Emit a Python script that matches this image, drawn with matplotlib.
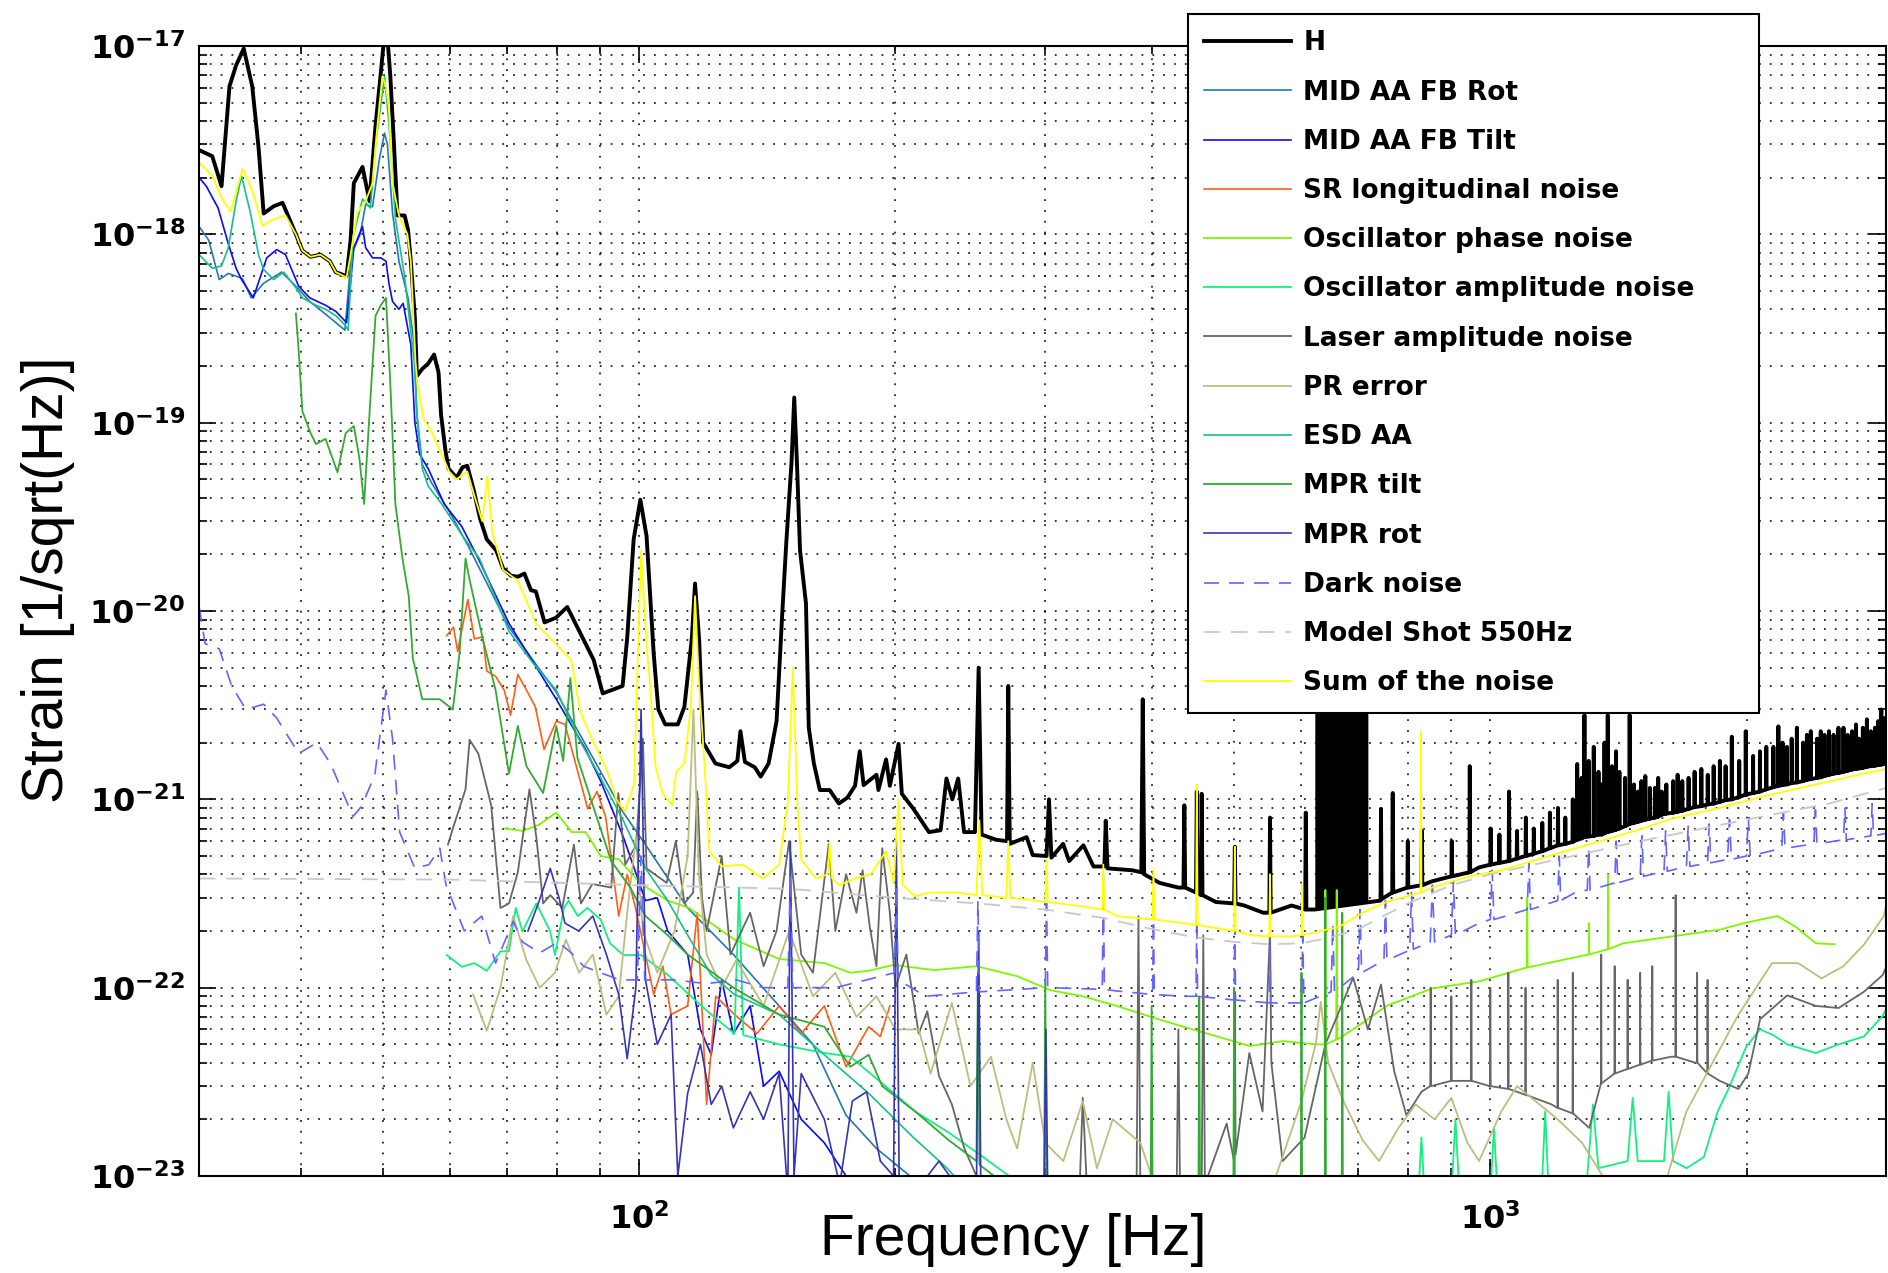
import matplotlib
matplotlib.use("Agg")
import matplotlib.pyplot as plt
from matplotlib.ticker import FixedLocator, FixedFormatter, LogLocator, NullFormatter

# ---------------- data: (frequency [Hz], strain [1/sqrt(Hz)]) ----------------
H = [(30.4, 2.8e-18), (31.5, 2.6e-18), (32.3, 1.8e-18), (33.0, 6.1e-18), (33.6, 7.9e-18), (34.3, 9.7e-18),
     (35.1, 6.1e-18), (35.7, 2.9e-18), (36.2, 1.29e-18), (37.2, 1.41e-18), (38.1, 1.47e-18), (39.5, 1.0e-18),
     (40.2, 8.2e-19), (41.1, 7.6e-19), (42.2, 7.8e-19), (43.3, 7.2e-19), (44.0, 6.3e-19), (45.3, 6.0e-19),
     (45.8, 9.3e-19), (46.2, 1.87e-18), (47.3, 2.28e-18), (48.2, 1.5e-18), (49.0, 3.8e-18), (49.7, 7.2e-18),
     (50.4, 1.4e-17), (51.0, 6.9e-18), (51.5, 3.0e-18), (52.0, 1.26e-18), (53.0, 1.26e-18), (53.5, 1.06e-18),
     (53.9, 7.2e-19), (54.5, 3.6e-19), (54.8, 1.77e-19), (55.6, 1.93e-19), (56.5, 2.06e-19), (57.4, 2.3e-19),
     (58.1, 1.85e-19), (58.5, 1.1e-19), (59.2, 7.1e-20), (59.7, 5.7e-20), (61.0, 5.1e-20), (62.0, 5.8e-20),
     (62.8, 5.9e-20), (63.9, 4.4e-20), (65.0, 3.1e-20), (66.2, 2.4e-20), (67.9, 2.1e-20), (69.2, 1.68e-20),
     (70.7, 1.54e-20), (72.0, 1.52e-20), (73.3, 1.58e-20), (74.6, 1.29e-20), (75.6, 1.27e-20), (77.4, 8.7e-21),
     (79.8, 9.2e-21), (82.3, 1.05e-20), (85.3, 7.6e-21), (88.4, 5.5e-21), (90.6, 3.65e-21), (92.8, 3.8e-21),
     (95.6, 4.0e-21), (96.8, 7.2e-21), (98.5, 2.4e-20), (100.3, 3.9e-20), (102, 2.5e-20), (104, 5.9e-21),
     (105.3, 3.0e-21), (107.3, 2.5e-21), (111, 2.5e-21), (113, 3.1e-21), (115.3, 7.2e-21), (116.3, 1.4e-20),
     (117.6, 7.0e-21), (118.9, 2.0e-21), (122.9, 1.55e-21), (127.6, 1.48e-21), (130.4, 1.6e-21), (131.5, 2.3e-21),
     (133.1, 1.58e-21), (136.7, 1.48e-21), (138.9, 1.32e-21), (141.9, 1.55e-21), (145, 2.6e-21), (147.3, 1.0e-20),
     (148.9, 2.35e-20), (151, 6.2e-20), (152.1, 1.36e-19), (153.2, 6.2e-20), (154.5, 2.1e-20), (157, 1.1e-20),
     (158.2, 2.4e-21), (160.4, 1.55e-21), (163, 1.12e-21), (167.4, 1.12e-21), (171.6, 9.5e-22), (175.6, 1.02e-21),
     (179.3, 1.18e-21), (181.6, 1.8e-21), (183.5, 1.19e-21), (190, 1.35e-21), (191, 1.12e-21), (195, 1.63e-21),
     (197, 1.18e-21), (201.7, 1.97e-21), (203.5, 1.07e-21), (210, 8.9e-22), (219, 6.7e-22), (226, 6.85e-22),
     (229.6, 1.29e-21), (233.3, 1.0e-21), (237, 1.29e-21), (240.8, 6.7e-22), (248, 6.7e-22), (250.5, 5.0e-21),
     (252.5, 6.5e-22), (262.6, 6.1e-22), (270.5, 6.0e-22), (271.4, 4.0e-21), (272.5, 5.8e-22), (285.2, 6.3e-22),
     (290, 5.06e-22), (301, 5.0e-22), (303, 1.0e-21), (305, 4.9e-22), (314.8, 5.8e-22), (320, 4.7e-22),
     (332.6, 5.7e-22), (341.8, 4.4e-22), (352, 4.4e-22), (353.3, 7.7e-22), (355, 4.3e-22), (379.6, 4.2e-22),
     (389, 4.1e-22), (390.5, 3.4e-21), (392, 4.0e-22), (408.7, 3.6e-22), (430, 3.4e-22), (436, 3.4e-22),
     (437, 9.3e-22), (438, 3.4e-22), (451, 3.2e-22), (452, 1.1e-21), (453, 3.2e-22), (457, 3.1e-22),
     (458, 1.07e-21), (459, 3.1e-22), (476, 2.85e-22), (500, 2.8e-22), (501, 5.6e-22), (502, 2.8e-22),
     (514, 2.73e-22), (541, 2.5e-22), (550, 2.5e-22), (551, 8.0e-22), (552, 2.5e-22), (584, 2.73e-22),
     (606, 2.6e-22), (607, 8.5e-22), (608, 2.6e-22), (622, 2.6e-22), (721, 2.85e-22), (743, 2.9e-22),
     (744, 8.9e-22), (745, 2.95e-22), (767, 3.2e-22), (768, 1.08e-21), (769, 3.2e-22), (799, 3.4e-22),
     (800, 6.0e-22), (801, 3.4e-22), (830, 3.5e-22), (831, 6.8e-22), (832, 3.5e-22), (854, 3.67e-22),
     (900, 3.9e-22), (901, 6.0e-22), (902, 3.9e-22), (945, 4.1e-22), (946, 1.5e-21), (947, 4.1e-22),
     (970, 4.35e-22),
     (1000, 4.5e-22), (1001, 7.0e-22), (1002, 4.5e-22), (1024, 4.6e-22), (1025, 6.5e-22), (1026, 4.6e-22),
     (1051, 4.7e-22), (1052, 1.1e-21), (1053, 4.7e-22), (1074, 4.85e-22), (1075, 6.8e-22), (1076, 4.85e-22),
     (1100, 5.0e-22), (1101, 8.0e-22), (1102, 5.0e-22), (1124, 5.15e-22), (1125, 7.0e-22), (1126, 5.15e-22),
     (1150, 5.3e-22), (1151, 7.5e-22), (1152, 5.3e-22), (1174, 5.5e-22), (1175, 8.5e-22), (1176, 5.5e-22),
     (1200, 5.7e-22), (1201, 9.0e-22), (1202, 5.7e-22), (1224, 5.8e-22), (1225, 8.0e-22), (1226, 5.8e-22),
     (1249, 5.95e-22), (1250, 1.0e-21), (1251, 5.95e-22), (1264, 6.1e-22), (1265, 1.54e-21), (1266, 6.1e-22),
     (1279, 6.2e-22), (1280, 1.3e-21), (1281, 6.2e-22), (1289, 6.3e-22), (1290, 2.8e-21), (1291, 6.3e-22),
     (1304, 6.35e-22), (1305, 1.6e-21), (1306, 6.35e-22), (1322, 6.4e-22), (1323, 1.9e-21), (1324, 6.4e-22),
     (1339, 6.5e-22), (1340, 1.4e-21), (1341, 6.5e-22), (1350, 6.5e-22), (1351, 1.2e-21), (1352, 6.5e-22),
     (1361, 6.6e-22), (1362, 2.0e-21), (1363, 6.6e-22), (1373, 6.7e-22), (1374, 2.8e-21), (1375, 6.7e-22),
     (1389, 6.8e-22), (1390, 1.5e-21), (1391, 6.8e-22), (1404, 6.9e-22), (1405, 1.8e-21), (1406, 6.9e-22),
     (1417, 7.0e-22), (1418, 1.4e-21), (1419, 7.0e-22), (1439, 7.2e-22), (1440, 1.3e-21), (1441, 7.2e-22),
     (1457, 7.4e-22), (1458, 2.8e-21), (1459, 7.4e-22), (1474, 7.5e-22), (1475, 1.2e-21), (1476, 7.5e-22),
     (1490, 7.6e-22), (1491, 1.1e-21), (1492, 7.6e-22), (1504, 7.7e-22), (1505, 1.25e-21), (1506, 7.7e-22),
     (1520, 7.8e-22), (1521, 1.33e-21), (1522, 7.8e-22), (1539, 7.9e-22), (1540, 1.15e-21), (1541, 7.9e-22),
     (1560, 8.0e-22), (1561, 1.15e-21), (1562, 8.0e-22), (1574, 8.1e-22), (1575, 1.3e-21), (1576, 8.1e-22),
     (1589, 8.3e-22), (1590, 1.1e-21), (1591, 8.3e-22), (1609, 8.4e-22), (1610, 1.2e-21), (1611, 8.4e-22),
     (1639, 8.5e-22), (1640, 1.25e-21), (1641, 8.5e-22), (1659, 8.6e-22), (1660, 1.35e-21), (1661, 8.6e-22),
     (1680, 8.7e-22), (1681, 1.25e-21), (1682, 8.7e-22), (1709, 8.9e-22), (1710, 1.3e-21), (1711, 8.9e-22),
     (1737, 9.1e-22), (1738, 1.4e-21), (1739, 9.1e-22), (1769, 9.2e-22), (1770, 1.45e-21), (1771, 9.2e-22),
     (1800, 9.4e-22), (1801, 1.35e-21), (1802, 9.4e-22), (1829, 9.5e-22), (1830, 1.5e-21), (1831, 9.5e-22),
     (1860, 9.7e-22), (1861, 1.6e-21), (1862, 9.7e-22), (1889, 9.9e-22), (1890, 1.5e-21), (1891, 9.9e-22),
     (1921, 1.0e-21), (1922, 2.15e-21), (1923, 1.0e-21), (1960, 1.03e-21), (1961, 1.6e-21), (1962, 1.03e-21),
     (1995, 1.06e-21), (1996, 2.3e-21), (1997, 1.06e-21), (2035, 1.08e-21), (2036, 1.7e-21), (2037, 1.08e-21),
     (2073, 1.1e-21), (2074, 1.8e-21), (2075, 1.1e-21), (2109, 1.13e-21), (2110, 1.9e-21), (2111, 1.13e-21),
     (2150, 1.16e-21), (2151, 1.9e-21), (2152, 1.16e-21), (2179, 1.18e-21), (2180, 2.44e-21), (2181, 1.18e-21),
     (2204, 1.19e-21), (2205, 2.0e-21), (2206, 1.19e-21), (2230, 1.2e-21), (2231, 1.9e-21), (2232, 1.2e-21),
     (2259, 1.22e-21), (2260, 2.1e-21), (2261, 1.22e-21), (2291, 1.23e-21), (2292, 2.4e-21), (2293, 1.23e-21),
     (2330, 1.25e-21), (2331, 2.0e-21), (2332, 1.25e-21), (2354, 1.27e-21), (2355, 2.2e-21), (2356, 1.27e-21),
     (2379, 1.28e-21), (2380, 2.3e-21), (2381, 1.28e-21), (2420, 1.3e-21), (2421, 2.1e-21), (2422, 1.3e-21),
     (2444, 1.31e-21), (2445, 2.3e-21), (2446, 1.31e-21), (2469, 1.33e-21), (2470, 2.2e-21), (2471, 1.33e-21),
     (2499, 1.35e-21), (2500, 2.3e-21), (2501, 1.35e-21), (2530, 1.37e-21), (2531, 2.2e-21), (2532, 1.37e-21),
     (2564, 1.38e-21), (2565, 2.4e-21), (2566, 1.38e-21), (2599, 1.4e-21), (2600, 2.4e-21), (2601, 1.4e-21),
     (2629, 1.42e-21), (2630, 2.2e-21), (2631, 1.42e-21), (2660, 1.44e-21), (2661, 2.3e-21), (2662, 1.44e-21),
     (2689, 1.45e-21), (2690, 2.5e-21), (2691, 1.45e-21), (2710, 1.46e-21), (2711, 2.1e-21), (2712, 1.46e-21),
     (2739, 1.47e-21), (2740, 2.4e-21), (2741, 1.47e-21), (2769, 1.49e-21), (2770, 2.66e-21), (2771, 1.49e-21),
     (2799, 1.5e-21), (2800, 2.3e-21), (2801, 1.5e-21), (2830, 1.51e-21), (2831, 2.4e-21), (2832, 1.51e-21),
     (2854, 1.52e-21), (2855, 2.6e-21), (2856, 1.52e-21), (2879, 1.53e-21), (2880, 3.0e-21), (2881, 1.53e-21),
     (2904, 1.54e-21), (2905, 2.7e-21), (2906, 1.54e-21), (2920, 1.55e-21)]

# dense band of H lines between ~620 and ~720 Hz
H_BLOCK_F = [622, 718]
H_BLOCK_LO = [2.6e-22, 2.85e-22]
H_BLOCK_HI = [6.0e-21, 6.0e-21]

MID_ROT = [(30.4, 1.1e-18), (31.2, 9.3e-19), (32.1, 5.75e-19), (32.9, 6.2e-19), (33.6, 6.0e-19), (34.2, 5.8e-19),
           (35.0, 4.6e-19), (36.2, 5.5e-19), (38.0, 6.3e-19), (39.5, 5.3e-19), (41.0, 4.4e-19), (42.4, 3.9e-19),
           (44.0, 3.4e-19), (45.1, 3.1e-19), (45.9, 7.8e-19), (47.0, 1.0e-18), (47.7, 1.44e-18), (48.6, 1.4e-18),
           (49.5, 2.5e-18), (50.2, 3.45e-18), (50.6, 3.0e-18), (51.3, 1.3e-18), (52.2, 7.2e-19), (53.5, 4.6e-19),
           (54.4, 2.6e-19), (54.8, 1.1e-19), (55.6, 6.0e-20), (57.0, 4.8e-20), (60.0, 3.3e-20), (63.0, 2.2e-20),
           (70.3, 8.2e-21), (79.9, 3.7e-21), (90.1, 1.4e-21), (95.8, 8.5e-22), (101.7, 5.75e-22), (114, 2.65e-22),
           (129, 1.5e-22), (146, 8.0e-23), (160, 5.0e-23), (175, 2.1e-23), (190, 1.4e-23), (208, 1.0e-23),
           (220, 8e-24)]

MID_TILT = [(30.4, 2.0e-18), (31.0, 1.8e-18), (32.0, 1.38e-18), (32.9, 8.9e-19), (33.6, 6.6e-19), (34.1, 5.75e-19),
            (35.2, 4.6e-19), (36.5, 7.5e-19), (37.5, 8.3e-19), (38.4, 7.8e-19), (39.8, 5.3e-19), (41.0, 4.6e-19),
            (42.8, 4.2e-19), (44.0, 3.9e-19), (45.3, 3.4e-19), (45.7, 5.0e-19), (46.2, 8.5e-19), (47.3, 1.1e-18),
            (47.7, 8.5e-19), (48.6, 7.5e-19), (49.7, 7.5e-19), (50.4, 7.2e-19), (50.8, 5.5e-19), (51.3, 4.4e-19),
            (52.2, 4.0e-19), (52.8, 4.3e-19), (53.9, 2.6e-19), (54.5, 1.0e-19), (55.2, 6.8e-20), (56.5, 5.7e-20),
            (59.0, 3.7e-20), (61.9, 2.8e-20), (64.7, 1.9e-20), (70.3, 8.6e-21), (79.9, 3.4e-21), (86.5, 1.84e-21),
            (90.1, 1.25e-21), (95.8, 6.3e-22), (101.7, 2.9e-22), (105, 3.0e-22), (108, 2.0e-22), (114, 1.5e-22),
            (118, 6.0e-23), (121.5, 4.4e-23), (125, 1.1e-22), (129, 5.7e-23), (135, 8.0e-23), (140, 3.0e-23),
            (146, 3.6e-23), (155, 2.0e-23), (165, 1.5e-23), (175, 1.0e-23), (185, 8e-24)]

SR_LONG = [(59.4, 7.4e-21), (60.5, 8.2e-21), (61.2, 6.1e-21), (61.9, 8.0e-21), (62.9, 1.15e-20), (64.0, 7.1e-21),
           (65.5, 7.3e-21), (66.2, 4.8e-21), (67.8, 4.5e-21), (69.4, 3.8e-21), (70.6, 2.8e-21), (72.0, 4.6e-21),
           (73.7, 3.8e-21), (75.5, 3.1e-21), (77.3, 1.84e-21), (79.9, 2.6e-21), (81.8, 2.5e-21), (83.8, 1.67e-21),
           (87.0, 8.9e-22), (89.2, 1.1e-21), (91.3, 8.1e-22), (94.6, 2.4e-22), (96.8, 4.0e-22), (99.1, 2.6e-22),
           (101.7, 1.5e-22), (104, 9.2e-23), (106.6, 1.3e-22), (109, 7.2e-23), (114, 8.0e-23), (117, 2.5e-22),
           (120, 2.4e-23), (123, 9.0e-23), (129.4, 7.2e-23), (137.5, 5.7e-23), (146, 8.0e-23), (155, 5.7e-23),
           (165, 8.0e-23), (175, 3.8e-23), (186, 6.2e-23), (192, 5.5e-23), (197, 8.0e-23)]

OSC_PHASE = [(69.5, 7.0e-22), (73.0, 6.8e-22), (76.1, 7.3e-22), (79.9, 8.5e-22), (83.3, 6.7e-22), (86.5, 6.7e-22),
             (90.1, 5.0e-22), (94.6, 4.8e-22), (100.5, 3.55e-22), (108, 2.9e-22), (114.4, 2.65e-22), (129.4, 1.8e-22),
             (146, 1.42e-22), (165, 1.35e-22), (177, 1.2e-22), (186, 1.23e-22), (199, 1.32e-22), (222, 1.24e-22),
             (249, 1.3e-22), (278, 1.15e-22), (304, 9.7e-23), (332, 9.0e-23), (364, 8.0e-23), (399, 7.0e-23),
             (436, 6.2e-23), (478, 5.5e-23), (522, 4.9e-23), (571, 5.2e-23), (624, 5.0e-23), (639, 5.0e-23),
             (640, 3.3e-22), (641, 5.0e-23), (659, 5.3e-23), (660, 3.3e-22), (661, 5.3e-23), (708, 6.5e-23),
             (755, 8.0e-23), (854, 9.9e-23), (970, 1.08e-22), (1104, 1.28e-22), (1105, 3.0e-22), (1106, 1.28e-22),
             (1258, 1.45e-22), (1305, 1.5e-22), (1306, 2.2e-22), (1307, 1.5e-22), (1374, 1.6e-22), (1375, 4.0e-22),
             (1376, 1.6e-22), (1433, 1.72e-22), (1632, 1.87e-22), (1860, 2.03e-22), (1985, 2.2e-22), (2175, 2.4e-22),
             (2286, 2.1e-22), (2412, 1.72e-22), (2540, 1.7e-22)]

OSC_AMP = [(59.4, 1.49e-22), (61.9, 1.29e-22), (64.0, 1.35e-22), (66.2, 1.23e-22), (68.7, 1.56e-22), (70.3, 1.56e-22),
           (71.6, 2.65e-22), (72.9, 1.99e-22), (75.7, 2.8e-22), (78.6, 1.99e-22), (79.6, 1.49e-22), (81.6, 2.65e-22),
           (82.6, 2.9e-22), (84.7, 2.4e-22), (86.9, 2.65e-22), (90.1, 2.3e-22), (92.4, 1.72e-22), (95.8, 1.49e-22),
           (100.5, 1.49e-22), (108, 1.17e-22), (114.4, 9.2e-23), (121.5, 7.2e-23), (129.4, 5.7e-23), (131, 3.4e-22),
           (132.5, 5.6e-23), (146, 5.0e-23), (165, 4.5e-23), (177, 4.3e-23), (193, 3.1e-23), (211, 2.2e-23),
           (231, 1.7e-23), (253, 1.27e-23), (272, 1.0e-23), (290, 8e-24), (820, 6e-24), (830, 1.6e-23),
           (840, 6e-24), (900, 8e-24), (910, 2.0e-23), (920, 8e-24), (1000, 8e-24), (1010, 1.8e-23), (1020, 8e-24),
           (1150, 9e-24), (1160, 2.2e-23), (1170, 9e-24), (1300, 1.0e-23), (1320, 2.4e-23), (1340, 1.1e-23),
           (1450, 1.2e-23), (1470, 2.6e-23), (1490, 1.2e-23), (1600, 1.2e-23), (1620, 2.8e-23), (1640, 1.2e-23),
           (1700, 1.1e-23), (1782, 1.26e-23), (1850, 2.2e-23), (1905, 2.9e-23), (1998, 4.85e-23), (2074, 6.0e-23),
           (2150, 5.6e-23), (2233, 5.0e-23), (2412, 4.5e-23), (2566, 5.0e-23), (2747, 5.5e-23), (2893, 7.1e-23),
           (2920, 7.8e-23)]

LASER_AMP = [(59.6, 5.75e-22), (60.4, 7.0e-22), (62.5, 1.13e-21), (63.2, 2.07e-21), (64.7, 1.75e-21), (67.0, 9.3e-22),
             (68.7, 2.65e-22), (70.3, 2.8e-22), (72.0, 4.1e-22), (74.3, 1.13e-21), (75.7, 6.3e-22), (77.1, 2.8e-22),
             (78.6, 3.1e-22), (81.2, 2.65e-22), (83.8, 5.75e-22), (85.4, 2.8e-22), (88.1, 3.55e-22), (92.7, 3.4e-22),
             (94.5, 1.08e-21), (96.3, 4.5e-22), (99.2, 5.75e-22), (101, 2.1e-21), (102, 4.3e-22), (107.7, 3.6e-22),
             (110.4, 6.0e-22), (113, 2.8e-22), (115.7, 3.2e-22), (117, 1.1e-21), (118.5, 3.0e-22), (120, 2.0e-22),
             (125, 5.0e-22), (128, 1.5e-22), (135, 2.5e-22), (140, 1.3e-22), (145, 2.0e-22), (150, 6.0e-22),
             (155, 1.5e-22), (160, 1.2e-22), (167, 5.8e-22), (170, 2.0e-22), (175, 4.0e-22), (180, 2.5e-22),
             (183, 4.2e-22), (186.6, 2.1e-22), (190, 1.3e-22), (193, 5.5e-22), (197, 2.5e-22), (200, 1.0e-22),
             (206, 1.5e-22), (213, 5.7e-23), (218, 7.5e-23), (225, 3.4e-23), (233, 2.4e-23), (241, 1.4e-23),
             (249, 1.0e-23), (260, 8e-24), (329, 8e-24), (332, 2.6e-23), (336, 8e-24), (384, 8e-24), (386, 2.4e-22),
             (388, 8e-24), (428, 8e-24), (430, 6.0e-23), (432, 8e-24), (458, 8e-24), (460, 1.9e-22), (462, 9e-24),
             (490, 1.9e-23), (500, 1.2e-23), (501, 9.5e-23), (502, 1.3e-23), (521, 4.5e-23), (540, 2.2e-23),
             (551, 2.0e-22), (553, 4.0e-23), (570, 1.2e-23), (605, 1.6e-23), (640, 5.0e-23), (690, 1.13e-22),
             (718, 6.0e-23), (744, 1.04e-22), (771, 3.6e-23), (797, 2.1e-23), (830, 2.8e-23), (850, 3.0e-23),
             (851, 1.0e-22), (852, 3.0e-23), (899, 3.2e-23), (900, 9.0e-23), (901, 3.2e-23), (949, 3.2e-23),
             (950, 1.1e-22), (951, 3.2e-23), (999, 3.0e-23), (1000, 1.0e-22), (1001, 3.0e-23), (1049, 2.9e-23),
             (1050, 1.2e-22), (1051, 2.9e-23), (1099, 2.7e-23), (1100, 1.0e-22), (1101, 2.7e-23), (1180, 2.4e-23),
             (1199, 2.3e-23), (1200, 1.1e-22), (1201, 2.3e-23), (1249, 2.15e-23), (1250, 1.2e-22), (1251, 2.15e-23),
             (1307, 1.8e-23), (1349, 3.1e-23), (1350, 1.5e-22), (1351, 3.1e-23), (1399, 3.5e-23), (1400, 1.3e-22),
             (1401, 3.5e-23), (1449, 3.7e-23), (1450, 1.1e-22), (1451, 3.7e-23), (1499, 3.9e-23), (1500, 1.2e-22),
             (1501, 3.9e-23), (1549, 4.1e-23), (1550, 1.3e-22), (1551, 4.1e-23), (1632, 4.3e-23), (1650, 4.3e-23),
             (1651, 3.1e-22), (1652, 4.3e-23), (1740, 4.0e-23), (1749, 4.0e-23), (1750, 1.2e-22), (1751, 4.0e-23),
             (1799, 3.5e-23), (1800, 1.1e-22), (1801, 3.5e-23), (1860, 3.2e-23), (1957, 2.9e-23), (2010, 3.5e-23),
             (2075, 6.8e-23), (2233, 9.1e-23), (2412, 8.0e-23), (2566, 7.8e-23), (2747, 9.5e-23), (2893, 1.17e-22),
             (2920, 1.3e-22)]

PR_ERROR = [(63.8, 9.2e-23), (66.2, 5.9e-23), (68.7, 1.0e-22), (71.1, 2.4e-22), (73.7, 1.4e-22), (76.4, 1.0e-22),
            (79.6, 1.2e-22), (82.0, 1.8e-22), (85.0, 1.2e-22), (88.2, 1.5e-22), (91.5, 7.2e-23), (94.6, 9.0e-23),
            (96.8, 2.5e-22), (99.1, 6.3e-22), (101, 2.0e-22), (105, 1.2e-22), (110, 2.0e-22), (114, 5.0e-22),
            (115.8, 3.0e-21), (117.5, 4.0e-22), (120, 1.5e-22), (125, 1.0e-22), (130, 1.4e-22), (140, 8.0e-23),
            (150, 2.0e-22), (160, 9.0e-23), (170, 1.2e-22), (180, 7.0e-23), (190, 9.0e-23), (200, 6.0e-23),
            (213, 6.0e-23), (220, 3.5e-23), (233, 8.3e-23), (245, 3.0e-23), (259, 4.3e-23), (270, 2.0e-23),
            (278, 1.4e-23), (290, 4.0e-23), (300, 1.5e-23), (315, 1.2e-23), (332, 2.5e-23), (345, 1.1e-23),
            (360, 2.0e-23), (388, 1.5e-23), (400, 1.0e-23), (430, 8e-24), (500, 8e-24), (560, 1.0e-23),
            (600, 2.5e-23), (624, 5.1e-23), (632, 8.4e-23), (645, 4.0e-23), (672, 2.5e-23), (708, 1.55e-23),
            (740, 1.2e-23), (780, 1.8e-23), (817, 2.4e-23), (860, 2.0e-23), (900, 2.6e-23), (940, 1.5e-23),
            (970, 1.2e-23), (1030, 2.2e-23), (1075, 3.0e-23), (1130, 2.5e-23), (1200, 2.0e-23), (1282, 1.5e-23),
            (1355, 1.0e-23), (1420, 8e-24), (1500, 8e-24), (1615, 1.0e-23), (1700, 2.2e-23), (1830, 4.1e-23),
            (1950, 7.0e-23), (2143, 1.35e-22), (2300, 1.35e-22), (2450, 1.12e-22), (2600, 1.3e-22), (2750, 1.7e-22),
            (2900, 2.4e-22), (2920, 2.8e-22)]

ESD_AA = [(30.4, 7.8e-19), (31.5, 6.6e-19), (32.3, 6.8e-19), (32.9, 8.5e-19), (33.6, 1.5e-18), (34.1, 2.04e-18),
          (34.9, 1.32e-18), (35.7, 7.8e-19), (36.2, 6.5e-19), (37.2, 5.75e-19), (38.2, 6.3e-19), (39.5, 5.2e-19),
          (40.2, 4.6e-19), (41.7, 4.2e-19), (42.8, 4.0e-19), (44.0, 3.7e-19), (45.1, 3.3e-19), (45.5, 3.1e-19),
          (46.1, 9.7e-19), (47.3, 1.54e-18), (48.3, 1.38e-18), (49.0, 3.0e-18), (50.2, 6.9e-18), (50.8, 3.9e-18),
          (51.7, 1.21e-18), (53.0, 6.0e-19), (54.4, 2.1e-19), (54.8, 1.1e-19), (55.6, 5.7e-20), (56.5, 4.6e-20),
          (58.6, 3.7e-20), (62.0, 2.5e-20), (64.9, 1.9e-20), (70.3, 7.8e-21), (75.0, 5.3e-21), (79.9, 3.8e-21),
          (84.9, 2.1e-21), (90.1, 1.3e-21), (95.8, 7.7e-22), (101.7, 4.3e-22), (108, 2.9e-22), (114, 1.9e-22),
          (121.5, 1.17e-22), (129.4, 9.2e-23), (146, 7.2e-23), (165, 4.4e-23), (186, 2.75e-23), (210, 1.6e-23),
          (230, 1.1e-23), (245, 8e-24)]

MPR_TILT = [(39.5, 3.8e-19), (39.8, 2.4e-19), (40.2, 1.15e-19), (41.1, 8.8e-20), (41.7, 7.7e-20), (42.8, 8.2e-20),
            (44.2, 5.45e-20), (45.2, 8.8e-20), (46.2, 9.6e-20), (46.9, 6.5e-20), (47.5, 3.7e-20), (48.3, 1.3e-19),
            (49.0, 3.7e-19), (49.7, 4.2e-19), (50.4, 4.6e-19), (51.0, 1.6e-19), (51.7, 3.7e-20), (52.7, 1.9e-20),
            (53.6, 1.2e-20), (54.2, 5.6e-21), (55.6, 3.4e-21), (58.3, 3.4e-21), (60.4, 3.0e-21), (61.5, 6.0e-21),
            (62.5, 1.9e-20), (63.2, 1.46e-20), (65.5, 7.1e-21), (67.8, 3.8e-21), (70.3, 1.37e-21), (72.0, 2.45e-21),
            (73.7, 1.5e-21), (77.1, 1.08e-21), (79.9, 2.45e-21), (81.4, 1.6e-21), (83.0, 4.4e-21), (84.6, 1.66e-21),
            (88.2, 9.3e-22), (92.7, 4.7e-22), (97.6, 3.4e-22), (101.7, 2.4e-22), (108, 1.9e-22), (114, 1.5e-22),
            (129, 1.0e-22), (146, 7.2e-23), (165, 6.2e-23), (177, 3.8e-23), (186, 4.4e-23), (193, 3.0e-23),
            (211, 2.2e-23), (231, 1.55e-23), (249, 1.2e-23), (250, 1.2e-22), (251, 1.15e-23), (265, 9.5e-24),
            (280, 8e-24), (299, 8e-24), (300, 1.1e-22), (301, 8e-24), (399, 8e-24), (400, 8.0e-23), (401, 8e-24),
            (454, 8e-24), (455, 9.0e-23), (456, 8e-24), (499, 8e-24), (500, 1.0e-22), (501, 8e-24), (599, 8e-24),
            (600, 1.2e-22), (601, 8e-24), (639, 8e-24), (640, 3.0e-22), (641, 8e-24), (669, 8e-24), (670, 2.5e-22),
            (671, 8e-24), (700, 8e-24)]

MPR_ROT = [(74, 2.0e-22), (76.1, 2.8e-22), (78.6, 4.3e-22), (80.5, 3.0e-22), (81.8, 2.2e-22), (84.9, 2.0e-22),
           (88.2, 2.4e-22), (91.5, 1.5e-22), (94.6, 9.2e-23), (96.8, 4.2e-23), (99.1, 1.0e-22), (100.5, 3.0e-21),
           (101.7, 1.1e-22), (105, 5.0e-23), (109, 7.2e-23), (111, 1.0e-23), (114, 2.75e-23), (118, 5.0e-23),
           (121.5, 2.4e-23), (125, 3.0e-23), (129, 1.8e-23), (135, 2.8e-23), (140, 2.0e-23), (146, 3.5e-23),
           (149.5, 8e-24), (150.5, 6.0e-22), (152, 1.0e-23), (155, 3.5e-23), (165, 2.0e-23), (172, 9e-24),
           (178, 2.5e-23), (185, 2.8e-23), (192, 1.2e-23), (199, 1.0e-23), (200.5, 6.0e-22), (202, 1.0e-23),
           (210, 8e-24), (225, 1.2e-23), (240, 8e-24), (249, 8e-24), (250.5, 2.0e-22), (252, 8e-24), (299, 8e-24),
           (300.5, 6.0e-23), (302, 8e-24), (320, 8e-24)]

DARK = [(30.4, 1.05e-20), (30.9, 6.7e-21), (32.1, 6.3e-21), (33.2, 4.0e-21), (34.5, 3.0e-21), (36.2, 3.2e-21),
        (37.5, 2.7e-21), (39.8, 1.75e-21), (41.8, 2.0e-21), (43.4, 1.54e-21), (46.1, 8.1e-22), (47.2, 9.2e-22),
        (48.9, 1.35e-21), (50.4, 3.8e-21), (51.3, 2.1e-21), (52.3, 6.7e-22), (54.5, 4.3e-22), (56.6, 4.5e-22),
        (58.3, 5.5e-22), (59.3, 3.5e-22), (62.3, 2.0e-22), (65.3, 2.4e-22), (67.8, 1.35e-22), (71.1, 2.25e-22),
        (72.9, 1.75e-22), (76.4, 1.53e-22), (80.3, 1.75e-22), (83.2, 1.53e-22), (86, 1.3e-22), (90, 1.2e-22),
        (95, 1.1e-22), (99.5, 1.1e-22), (100.5, 5.0e-22), (101.5, 1.1e-22), (110, 1.1e-22), (120, 1.05e-22),
        (130, 1.1e-22), (140, 1.0e-22), (149.5, 1.0e-22), (150.5, 4.0e-22), (151.5, 1.0e-22), (170, 1.0e-22),
        (185, 1.1e-22), (199.5, 1.2e-22), (200.5, 3.5e-22), (201.5, 1.1e-22), (217, 9.0e-23), (249, 9.5e-23),
        (250, 2.9e-22), (251, 9.5e-23), (300, 1.0e-22), (301, 2.8e-22), (302, 1.0e-22), (350, 9.8e-23),
        (351, 3.9e-22), (352, 9.8e-23), (364, 9.6e-23), (401, 9.2e-23), (402, 2.3e-22), (403, 9.2e-23),
        (436, 9.0e-23), (451, 9.0e-23), (452, 2.4e-22), (453, 9.0e-23), (500, 8.6e-23), (501, 2.1e-22),
        (502, 8.6e-23), (550, 8.3e-23), (551, 2.0e-22), (552, 8.3e-23), (600, 8.3e-23), (602, 1.9e-22),
        (604, 8.3e-23), (650, 9.5e-23), (653, 2.2e-22), (656, 9.5e-23), (700, 1.2e-22), (703, 2.6e-22),
        (706, 1.2e-22), (750, 1.4e-22), (753, 2.9e-22), (756, 1.4e-22), (804, 1.58e-22), (808, 3.2e-22),
        (812, 1.6e-22), (850, 1.75e-22), (855, 3.5e-22), (860, 1.75e-22), (900, 1.9e-22), (905, 3.7e-22),
        (910, 1.9e-22), (970, 2.2e-22), (1000, 2.3e-22), (1005, 4.2e-22), (1010, 2.3e-22), (1105, 2.6e-22),
        (1110, 4.6e-22), (1115, 2.6e-22), (1200, 2.9e-22), (1205, 5.0e-22), (1210, 2.9e-22), (1258, 3.2e-22),
        (1300, 3.3e-22), (1305, 5.6e-22), (1310, 3.3e-22), (1400, 3.6e-22), (1406, 6.0e-22), (1412, 3.6e-22),
        (1500, 3.9e-22), (1507, 6.4e-22), (1514, 3.9e-22), (1600, 4.15e-22), (1607, 6.8e-22), (1614, 4.15e-22),
        (1700, 4.4e-22), (1708, 7.2e-22), (1716, 4.4e-22), (1800, 4.6e-22), (1808, 7.4e-22), (1816, 4.6e-22),
        (1900, 4.8e-22), (1910, 7.8e-22), (1920, 4.8e-22), (2000, 5.0e-22), (2010, 8.0e-22), (2020, 5.0e-22),
        (2200, 5.5e-22), (2210, 8.5e-22), (2220, 5.5e-22), (2400, 5.8e-22), (2410, 8.8e-22), (2420, 5.8e-22),
        (2600, 6.1e-22), (2610, 9.0e-22), (2620, 6.1e-22), (2800, 6.4e-22), (2810, 9.5e-22), (2820, 6.4e-22),
        (2920, 6.6e-22)]

MODEL_SHOT = [(30.4, 3.8e-22), (60, 3.75e-22), (100, 3.5e-22), (150, 3.35e-22), (200, 3.0e-22), (250, 2.8e-22),
              (300, 2.6e-22), (350, 2.35e-22), (400, 2.05e-22), (450, 1.85e-22), (500, 1.75e-22), (550, 1.7e-22),
              (600, 1.72e-22), (650, 1.85e-22), (700, 2.05e-22), (800, 2.8e-22), (900, 3.5e-22), (1000, 4.0e-22),
              (1200, 4.8e-22), (1500, 6.0e-22), (2000, 7.8e-22), (2500, 9.5e-22), (2920, 1.15e-21)]

SUM = [(30.4, 2.4e-18), (31.5, 2.05e-18), (32.3, 1.57e-18), (33.1, 1.32e-18), (34.2, 2.23e-18), (35.1, 1.71e-18),
       (36.1, 1.11e-18), (37.2, 1.2e-18), (38.4, 1.26e-18), (39.5, 1.0e-18), (40.2, 8.2e-19), (41.1, 7.6e-19),
       (42.2, 7.8e-19), (43.3, 7.2e-19), (44.0, 6.3e-19), (45.3, 5.9e-19), (45.8, 7.8e-19), (46.6, 1.3e-18),
       (47.7, 1.5e-18), (48.6, 1.87e-18), (49.2, 3.6e-18), (49.9, 6.9e-18), (50.4, 6.1e-18), (50.8, 4.7e-18),
       (51.3, 1.87e-18), (52.2, 1.26e-18), (53.4, 1.0e-18), (53.9, 7.2e-19), (54.6, 2.1e-19), (54.9, 1.6e-19),
       (55.8, 1.05e-19), (57.1, 8.8e-20), (59.8, 5.5e-20), (61.0, 5.0e-20), (62.8, 5.5e-20), (63.9, 4.2e-20),
       (65.4, 3.0e-20), (66.3, 5.2e-20), (67.2, 2.6e-20), (69.2, 1.65e-20), (72.0, 1.45e-20), (75.6, 8.6e-21),
       (79.0, 7.0e-21), (83.2, 5.5e-21), (85.3, 2.9e-21), (88.4, 2.0e-21), (91.6, 1.44e-21), (94.0, 1.0e-21),
       (96.2, 8.6e-22), (98.6, 1.2e-21), (100.5, 2.1e-20), (102, 6.6e-21), (103, 4.0e-21), (104.5, 1.5e-21),
       (106.6, 1.07e-21), (109.3, 9.3e-22), (110.5, 1.4e-21), (113, 1.55e-21), (115, 3.1e-21), (116.3, 1.2e-20),
       (117.6, 4.0e-21), (119.3, 1.55e-21), (120.9, 5.3e-22), (125, 4.4e-22), (132.2, 4.5e-22), (139.8, 3.8e-22),
       (146, 4.5e-22), (149.5, 9.7e-22), (151.5, 5.0e-21), (153.5, 9.0e-22), (155, 4.8e-22), (161.3, 3.8e-22),
       (166.5, 4.0e-22), (167.4, 5.8e-22), (168.5, 3.8e-22), (171.8, 3.5e-22), (179.3, 3.8e-22), (187, 4.0e-22),
       (195, 5.3e-22), (199, 3.6e-22), (201.7, 1.0e-21), (204, 3.5e-22), (211, 3.05e-22), (219, 3.2e-22),
       (236, 3.2e-22), (249, 3.1e-22), (251, 7.7e-22), (253, 3.1e-22), (270, 3.0e-22), (271.4, 6.0e-22),
       (273, 3.0e-22), (293, 2.9e-22), (300, 2.85e-22), (301, 4.8e-22), (302, 2.85e-22), (332, 2.7e-22),
       (350, 2.6e-22), (351, 4.5e-22), (352, 2.6e-22), (364, 2.4e-22), (401, 2.3e-22), (402, 4.3e-22),
       (403, 2.3e-22), (436, 2.2e-22), (451, 2.15e-22), (452, 1.2e-21), (453, 2.15e-22), (500, 2.0e-22),
       (501, 5.6e-22), (502, 2.0e-22), (522, 1.9e-22), (550, 1.87e-22), (551, 4.0e-22), (552, 1.87e-22),
       (584, 1.87e-22), (600, 1.9e-22), (601, 3.5e-22), (602, 1.9e-22), (664, 2.1e-22), (708, 2.5e-22),
       (755, 2.85e-22), (828, 3.2e-22), (829, 2.3e-21), (830, 3.2e-22), (854, 3.4e-22), (946, 3.9e-22),
       (1032, 4.2e-22), (1172, 5.0e-22), (1330, 5.9e-22), (1510, 7.0e-22), (1632, 7.9e-22), (1860, 9.0e-22),
       (2118, 1.05e-21), (2412, 1.2e-21), (2747, 1.37e-21), (2920, 1.45e-21)]

X_TICKS = [100, 1000]
X_TICKLABELS = [r'$\mathbf{10^{2}}$', r'$\mathbf{10^{3}}$']
Y_TICKS = [1e-23, 1e-22, 1e-21, 1e-20, 1e-19, 1e-18, 1e-17]
Y_TICKLABELS = [r'$\mathbf{10^{-23}}$', r'$\mathbf{10^{-22}}$', r'$\mathbf{10^{-21}}$', r'$\mathbf{10^{-20}}$',
                r'$\mathbf{10^{-19}}$', r'$\mathbf{10^{-18}}$', r'$\mathbf{10^{-17}}$']

SERIES = [
    ("H", H, dict(color="black", lw=2.8)),
    ("MID AA FB Rot", MID_ROT, dict(color="#2677b0", lw=1.2)),
    ("MID AA FB Tilt", MID_TILT, dict(color="#0a0aff", lw=1.2)),
    ("SR longitudinal noise", SR_LONG, dict(color="#ff5f14", lw=1.2)),
    ("Oscillator phase noise", OSC_PHASE, dict(color="#7ff500", lw=1.3)),
    ("Oscillator amplitude noise", OSC_AMP, dict(color="#14f07e", lw=1.3)),
    ("Laser amplitude noise", LASER_AMP, dict(color="#666666", lw=1.3)),
    ("PR error", PR_ERROR, dict(color="#bdbd80", lw=1.3)),
    ("ESD AA", ESD_AA, dict(color="#17bf8c", lw=1.2)),
    ("MPR tilt", MPR_TILT, dict(color="#33aa33", lw=1.3)),
    ("MPR rot", MPR_ROT, dict(color="#3535b5", lw=1.2)),
    ("Dark noise", DARK, dict(color="#6464ff", lw=1.2, ls=(0, (9, 6)))),
    ("Model Shot 550Hz", MODEL_SHOT, dict(color="#c8c8c8", lw=1.3, ls=(0, (9, 6)))),
    ("Sum of the noise", SUM, dict(color="#ffff00", lw=1.3)),
]

# ---------------- figure ----------------
W, Hpx = 1888, 1273
fig = plt.figure(figsize=(W / 100, Hpx / 100), dpi=100)
fig.patch.set_facecolor("white")
ax = fig.add_axes([199 / W, 1 - 1176 / Hpx, (1886 - 199) / W, (1176 - 46) / Hpx])
ax.set_xscale("log")
ax.set_yscale("log")

ax.fill_between(H_BLOCK_F, H_BLOCK_LO, H_BLOCK_HI, color="black", lw=0, zorder=2)
for label, pairs, style in SERIES:
    f = [p[0] for p in pairs]
    h = [p[1] for p in pairs]
    ax.plot(f, h, label=label, zorder=2, **style)

ax.set_xlim(30.39, 2917)
ax.set_ylim(1e-23, 1e-17)

ax.xaxis.set_major_locator(FixedLocator(X_TICKS))
ax.xaxis.set_major_formatter(FixedFormatter(X_TICKLABELS))
ax.xaxis.set_minor_locator(LogLocator(base=10, subs=range(2, 10), numticks=50))
ax.xaxis.set_minor_formatter(NullFormatter())
ax.yaxis.set_major_locator(FixedLocator(Y_TICKS))
ax.yaxis.set_major_formatter(FixedFormatter(Y_TICKLABELS))
ax.yaxis.set_minor_locator(LogLocator(base=10, subs=range(2, 10), numticks=50))
ax.yaxis.set_minor_formatter(NullFormatter())

ax.set_axisbelow(True)
ax.grid(True, which="both", color="black", ls=(0, (1, 5)), lw=1.3, alpha=0.85)
ax.tick_params(which="both", direction="in", top=True, right=True, width=1.2, colors="black")
ax.tick_params(which="major", length=12, labelsize=23)
ax.tick_params(which="minor", length=6)
ax.tick_params(axis="y", pad=10)
ax.tick_params(axis="x", pad=20)
for sp in ax.spines.values():
    sp.set_linewidth(1.5)
    sp.set_color("black")

fig.text(1013 / W, 1 - 1240 / Hpx, "Frequency [Hz]", family="Liberation Sans", fontsize=41,
         ha="center", va="center")
fig.text(48 / W, 1 - 580 / Hpx, "Strain [1/sqrt(Hz)]", family="Liberation Sans", fontsize=41,
         rotation=90, ha="center", va="center")

leg = ax.legend(loc="upper left", bbox_to_anchor=(1188 / W, 1 - 14 / Hpx, 571 / W, 0),
                bbox_transform=fig.transFigure, mode="expand", borderaxespad=0,
                prop=dict(family="DejaVu Sans", weight="bold", size=19),
                handlelength=3.3, handletextpad=0.45, labelspacing=0.88, borderpad=0.62,
                fancybox=False, framealpha=1, edgecolor="black")
leg.get_frame().set_linewidth(1.5)
leg.set_zorder(10)

fig.savefig("out.png", dpi=100, facecolor="white")
